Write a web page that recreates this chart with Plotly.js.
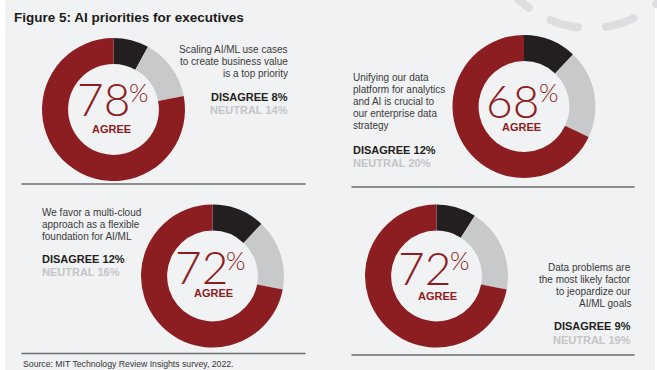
<!DOCTYPE html>
<html><head><meta charset="utf-8">
<script src="https://cdn.plot.ly/plotly-3.0.1.min.js"></script>
<style>html,body{margin:0;padding:0;background:#fff}#chart{width:657px;height:370px}</style>
</head><body><div id="chart"></div>
<script>
// ---- data ----
const sliceLabels = ['Disagree', 'Neutral', 'Agree'];
const agreeValues = [78, 68, 72, 72];
const disagreeValues = [8, 12, 12, 9];
const neutralValues = [14, 20, 16, 19];
const statement1 = ['Scaling AI/ML use cases', 'to create business value', 'is a top priority'];
const statement2 = ['Unifying our data', 'platform for analytics', 'and AI is crucial to', 'our enterprise data', 'strategy'];
const statement3 = ['We favor a multi-cloud', 'approach as a flexible', 'foundation for AI/ML'];
const statement4 = ['Data problems are', 'the most likely factor', 'to jeopardize our', 'AI/ML goals'];
const statements = [statement1, statement2, statement3, statement4];
const titleText = 'Figure 5: AI priorities for executives';
const sourceText = 'Source: MIT Technology Review Insights survey, 2022.';

// ---- layout helpers ----
const W = 657, H = 370;
const px = x => x / W;
const py = y => 1 - y / H;
const RED = '#8c1e22', BLACK = '#231f20', GRAY = '#c8c9cb', BG = '#f1f2f3';

const panels = [
  {cx: 113.5, cy: 109.5, r: 71.5, tx: 289, align: 'right', y0: 50, dy: 11.8, sy: 96.7,
   num: [103.5, 98.5], pct: [139, 92], agree: [111, 129]},
  {cx: 524, cy: 106.5, r: 71.5, tx: 352, align: 'left', y0: 77, dy: 12, sy: 149.5,
   num: [512, 100.3], pct: [548.5, 92], agree: [521, 127]},
  {cx: 212.5, cy: 276, r: 71.5, tx: 41, align: 'left', y0: 212, dy: 12, sy: 258.8,
   num: [201, 266.5], pct: [236, 259.5], agree: [213, 293]},
  {cx: 436.5, cy: 276, r: 71.5, tx: 632, align: 'right', y0: 267, dy: 12, sy: 326.3,
   num: [424.5, 267], pct: [460, 260], agree: [437, 296]}
];

const traces = panels.map((p, i) => ({
  type: 'pie',
  labels: sliceLabels,
  values: [disagreeValues[i], neutralValues[i], agreeValues[i]],
  marker: {colors: [BLACK, GRAY, RED], line: {width: 0}},
  hole: 0.635,
  sort: false,
  direction: 'clockwise',
  rotation: 0,
  textinfo: 'none',
  hoverinfo: 'label+percent',
  showlegend: false,
  domain: {x: [px(p.cx - p.r), px(p.cx + p.r)], y: [py(p.cy + p.r), py(p.cy - p.r)]}
}));

const SANS = '"Liberation Sans", Arial, Helvetica, sans-serif';
const THIN = 'Lato, "Open Sans", sans-serif';
const annotations = [];
function txt(x, y, text, font, xanchor) {
  annotations.push({xref: 'paper', yref: 'paper', x: px(x), y: py(y), text: text, showarrow: false,
    xanchor: xanchor || 'center', yanchor: 'middle', font: font, borderpad: 0});
}
txt(13, 18, '<b>' + titleText + '</b>', {family: SANS, size: 13.5, color: '#1a1a1a'}, 'left');
txt(22, 364, sourceText, {family: SANS, size: 8.7, color: '#333333'}, 'left');

panels.forEach((p, i) => {
  const xa = p.align;
  statements[i].forEach((line, k) => {
    txt(p.tx, p.y0 + k * p.dy, line, {family: SANS, size: 10, color: '#3a3a3a'}, xa);
  });
  txt(p.tx, p.sy, '<b>DISAGREE ' + disagreeValues[i] + '%</b>', {family: SANS, size: 11, color: BLACK}, xa);
  txt(p.tx, p.sy + 13.3, '<b>NEUTRAL ' + neutralValues[i] + '%</b>', {family: SANS, size: 11, color: '#c4c5c7'}, xa);
  txt(p.num[0], p.num[1], String(agreeValues[i]), {family: THIN, size: 46, color: RED, weight: 300});
  txt(p.pct[0], p.pct[1], '%', {family: THIN, size: 25, color: RED, weight: 300});
  txt(p.agree[0], p.agree[1], '<b>AGREE</b>', {family: SANS, size: 11, color: RED});
});

// ---- decorative shapes ----
const shapes = [
  {type: 'rect', xref: 'paper', yref: 'paper', x0: 0, x1: px(5), y0: 0, y1: 1, fillcolor: '#ffffff', line: {width: 0}},
  {type: 'rect', xref: 'paper', yref: 'paper', x0: px(655), x1: 1, y0: 0, y1: 1, fillcolor: '#ffffff', line: {width: 0}},
  {type: 'line', xref: 'paper', yref: 'paper', x0: px(22), x1: px(305), y0: py(184), y1: py(184), line: {color: '#6d6e70', width: 1.5}},
  {type: 'line', xref: 'paper', yref: 'paper', x0: px(352), x1: px(634), y0: py(187), y1: py(187), line: {color: '#6d6e70', width: 1.5}},
  {type: 'line', xref: 'paper', yref: 'paper', x0: px(22), x1: px(305), y0: py(353.5), y1: py(353.5), line: {color: '#6d6e70', width: 1.5}},
  {type: 'line', xref: 'paper', yref: 'paper', x0: px(352), x1: px(634), y0: py(355), y1: py(355), line: {color: '#6d6e70', width: 1.5}}
];
// dashed decorative arc (top right)
const arcDashes = [[-50, -36.5], [-22.5, -6.7], [8.9, 24.9], [39.9, 55]];
arcDashes.forEach(([a0, a1]) => {
  let d = '';
  for (let k = 0; k <= 12; k++) {
    const a = (a0 + (a1 - a0) * k / 12) * Math.PI / 180;
    const x = 590 + 103 * Math.sin(a), y = -75 + 103 * Math.cos(a);
    d += (k === 0 ? 'M ' : ' L ') + px(x).toFixed(5) + ' ' + py(y).toFixed(5);
  }
  shapes.push({type: 'path', xref: 'paper', yref: 'paper', path: d, line: {color: '#dcdde0', width: 8}, name: 'deco'});
});

const layout = {
  width: W, height: H,
  margin: {l: 0, r: 0, t: 0, b: 0},
  paper_bgcolor: BG, plot_bgcolor: BG,
  showlegend: false,
  annotations: annotations,
  shapes: shapes
};

Plotly.newPlot('chart', traces, layout, {displayModeBar: false, staticPlot: true}).then(() => {
  document.querySelectorAll('.shapelayer path').forEach(el => {
    el.style.strokeLinecap = 'round';
  });
});
</script>
</body></html>
